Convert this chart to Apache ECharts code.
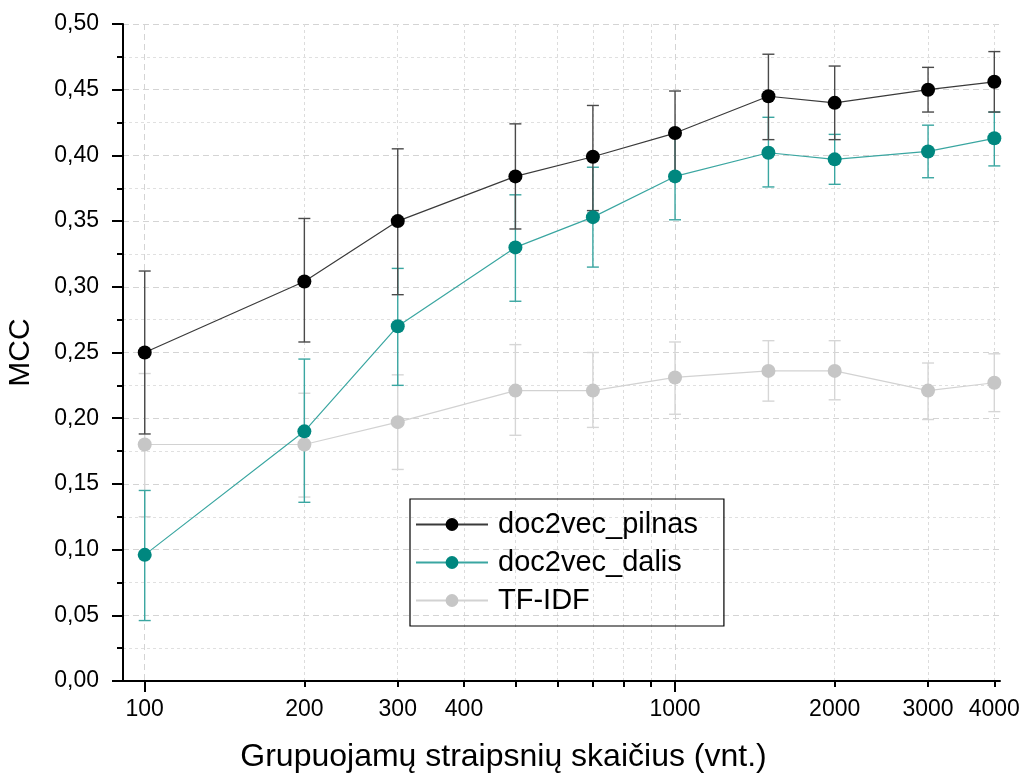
<!DOCTYPE html>
<html>
<head>
<meta charset="utf-8">
<script src="https://cdn.jsdelivr.net/npm/echarts@6/dist/echarts.min.js"></script>
<style>
html, body { margin: 0; padding: 0; background: #fff; }
#chart { width: 1024px; height: 775px; }
</style>
</head>
<body>
<div id="chart"></div>
<script>
var sizes = [100, 200, 300, 500, 700, 1000, 1500, 2000, 3000, 4000];
var xLabels = [100, 200, 300, 400, 1000, 2000, 3000, 4000];
var xMajor = [100, 1000];
var xMinor = [200, 300, 400, 500, 600, 700, 800, 900, 2000, 3000, 4000];

var pilnas     = [0.250, 0.304, 0.350, 0.384, 0.399, 0.417, 0.445, 0.440, 0.450, 0.456];
var pilnasLow  = [0.188, 0.258, 0.294, 0.344, 0.358, 0.384, 0.412, 0.412, 0.433, 0.433];
var pilnasHigh = [0.312, 0.352, 0.405, 0.424, 0.438, 0.449, 0.477, 0.468, 0.467, 0.479];

var dalis      = [0.096, 0.190, 0.270, 0.330, 0.353, 0.384, 0.402, 0.397, 0.403, 0.413];
var dalisLow   = [0.046, 0.136, 0.225, 0.289, 0.315, 0.351, 0.376, 0.378, 0.383, 0.392];
var dalisHigh  = [0.145, 0.245, 0.314, 0.370, 0.391, 0.416, 0.429, 0.416, 0.423, 0.433];

var tfidf      = [0.180, 0.180, 0.197, 0.221, 0.221, 0.231, 0.236, 0.236, 0.221, 0.227];
var tfidfLow   = [0.125, 0.140, 0.161, 0.187, 0.193, 0.203, 0.213, 0.214, 0.199, 0.205];
var tfidfHigh  = [0.234, 0.219, 0.233, 0.256, 0.250, 0.258, 0.259, 0.259, 0.242, 0.249];

var FONT = '"Liberation Sans", Arial, sans-serif';

function points(ys) {
    var out = [];
    for (var i = 0; i < sizes.length; i++) {
        out.push([sizes[i], ys[i]]);
    }
    return out;
}

function ranges(lo, hi) {
    var out = [];
    for (var i = 0; i < sizes.length; i++) {
        out.push([sizes[i], lo[i], hi[i]]);
    }
    return out;
}

function renderBars(params, api) {
    var x = api.value(0);
    var lo = api.coord([x, api.value(1)]);
    var hi = api.coord([x, api.value(2)]);
    var half = 6;
    var style = { stroke: api.visual('color'), lineWidth: 1.4, fill: null };
    return {
        type: 'group',
        children: [
            { type: 'line', shape: { x1: lo[0], y1: lo[1], x2: hi[0], y2: hi[1] }, style: style },
            { type: 'line', shape: { x1: lo[0] - half, y1: lo[1], x2: lo[0] + half, y2: lo[1] }, style: style },
            { type: 'line', shape: { x1: hi[0] - half, y1: hi[1], x2: hi[0] + half, y2: hi[1] }, style: style }
        ]
    };
}

function errSeries(name, lo, hi, color) {
    return {
        name: name,
        type: 'custom',
        renderItem: renderBars,
        itemStyle: { color: color },
        encode: { x: 0, y: [1, 2] },
        data: ranges(lo, hi),
        silent: true
    };
}

function lineSeries(name, ys, dotColor, lineColor) {
    return {
        name: name,
        type: 'line',
        data: points(ys),
        symbol: 'circle',
        symbolSize: 14,
        itemStyle: { color: dotColor },
        lineStyle: { color: lineColor, width: 1.2 }
    };
}

var chart = echarts.init(document.getElementById('chart'));

var option = {
    animation: false,
    backgroundColor: '#fff',
    grid: { left: 123, right: 24, top: 24, bottom: 94, outerBoundsMode: 'none', containLabel: false },
    legend: {
        data: ['doc2vec_pilnas', 'doc2vec_dalis', 'TF-IDF'],
        orient: 'vertical',
        left: 410,
        top: 499,
        itemWidth: 72,
        itemHeight: 16,
        itemGap: 9,
        padding: [11, 26, 11, 5],
        borderColor: '#000',
        borderWidth: 1.2,
        borderRadius: 0,
        textStyle: { fontFamily: FONT, fontSize: 29, color: '#000', padding: [0, 0, 0, 5] }
    },
    xAxis: [{
        type: 'log',
        logBase: 10,
        min: 91,
        max: 4100,
        position: 'bottom',
        name: 'Grupuojamų straipsnių skaičius (vnt.)',
        nameLocation: 'middle',
        nameGap: 60,
        nameTextStyle: { fontFamily: FONT, fontSize: 32, color: '#000', padding: [0, 116, 0, 0] },
        axisLine: { onZero: false, lineStyle: { color: '#000', width: 2 } },
        axisTick: { customValues: xMajor, length: 11, lineStyle: { color: '#000', width: 2 } },
        axisLabel: {
            customValues: xLabels,
            margin: 17,
            fontFamily: FONT,
            fontSize: 23,
            color: '#000',
            formatter: function (v) { return String(Math.round(v)); }
        },
        splitLine: { show: true, lineStyle: { color: '#d4d4d4', type: [6, 4], width: 1 } }
    }, {
        type: 'log',
        logBase: 10,
        min: 91,
        max: 4100,
        position: 'bottom',
        axisLine: { show: false, onZero: false },
        axisTick: { customValues: xMinor, length: 6, lineStyle: { color: '#000', width: 2 } },
        axisLabel: { show: false },
        splitLine: { show: true, lineStyle: { color: '#dcdcdc', type: [3, 3], width: 1 } }
    }],
    yAxis: {
        type: 'value',
        min: 0,
        max: 0.5,
        interval: 0.05,
        name: 'MCC',
        nameLocation: 'middle',
        nameGap: 87,
        nameTextStyle: { fontFamily: FONT, fontSize: 30, color: '#000' },
        axisLine: { show: true, lineStyle: { color: '#000', width: 2 } },
        axisTick: { show: true, length: 11, lineStyle: { color: '#000', width: 2 } },
        minorTick: { show: true, splitNumber: 2, length: 6, lineStyle: { color: '#000', width: 2 } },
        axisLabel: {
            margin: 24,
            fontFamily: FONT,
            fontSize: 23,
            color: '#000',
            formatter: function (v) { return v.toFixed(2).replace('.', ','); }
        },
        splitLine: { show: true, lineStyle: { color: '#d4d4d4', type: [6, 4], width: 1 } },
        minorSplitLine: { show: true, lineStyle: { color: '#e0e0e0', type: [3, 3], width: 1 } }
    },
    series: [
        errSeries('tfidf_err', tfidfLow, tfidfHigh, '#d6d6d6'),
        lineSeries('TF-IDF', tfidf, '#c6c6c6', '#d2d2d2'),
        errSeries('dalis_err', dalisLow, dalisHigh, '#3aa6a1'),
        lineSeries('doc2vec_dalis', dalis, '#00877f', '#3aa6a1'),
        errSeries('pilnas_err', pilnasLow, pilnasHigh, '#4a4a4a'),
        lineSeries('doc2vec_pilnas', pilnas, '#000000', '#3a3a3a')
    ]
};

chart.setOption(option);
</script>
</body>
</html>
